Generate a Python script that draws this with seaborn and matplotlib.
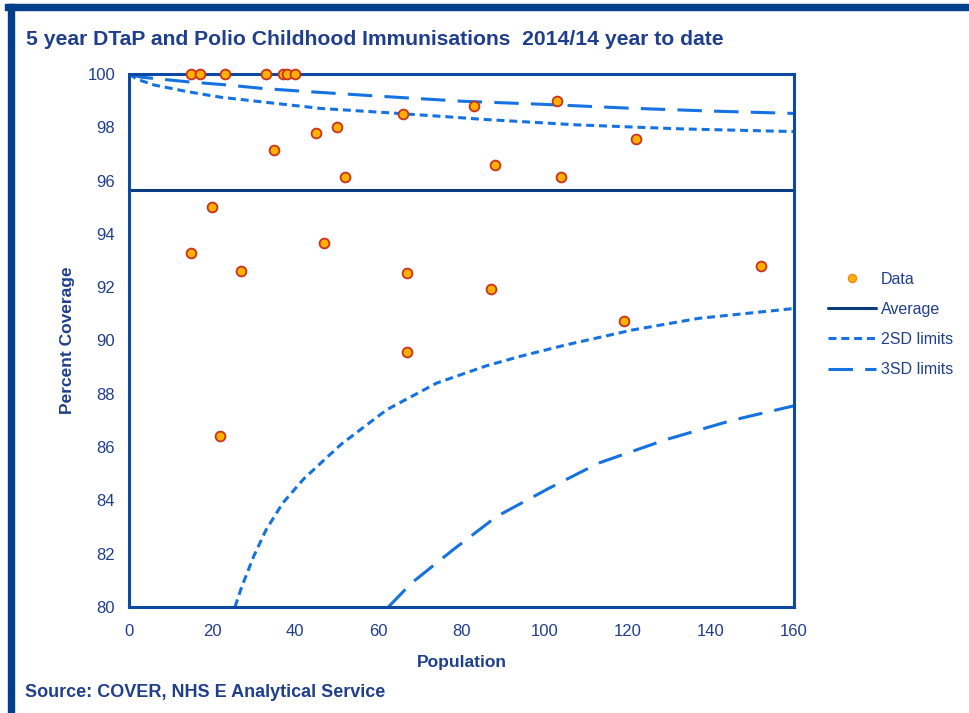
import matplotlib
matplotlib.use("Agg")
import matplotlib.pyplot as plt
from matplotlib.lines import Line2D
from matplotlib.patches import Rectangle
import seaborn as sns
import pandas as pd

# data
pop = [15, 17, 23, 33, 37, 38, 40, 35, 45, 50, 52, 66, 83, 88, 103, 104, 122,
       15, 20, 27, 22, 47, 67, 67, 87, 119, 152]
coverage = [100, 100, 100, 100, 100, 100, 100, 97.15, 97.8, 98.0, 96.15, 98.5, 98.8, 96.6, 99.0, 96.15, 97.55,
            93.3, 95.0, 92.6, 86.4, 93.65, 92.55, 89.55, 91.95, 90.75, 92.8]
average = 95.65

upper2_x = [0, 2, 6, 14, 22, 34, 46, 62, 78, 85, 108, 133, 160]
upper2_y = [100, 99.8, 99.59, 99.34, 99.13, 98.92, 98.71, 98.55, 98.38, 98.3, 98.09, 97.94, 97.84]
upper3_x = [0, 3, 14, 23.5, 32, 43, 52, 62, 80, 100, 120, 140, 160]
upper3_y = [100, 99.88, 99.71, 99.59, 99.46, 99.34, 99.25, 99.15, 98.98, 98.86, 98.72, 98.61, 98.52]
lower2_x = [25.5, 27, 30, 33, 37, 42, 51, 62, 74, 86, 94, 105, 121, 137, 160]
lower2_y = [80.0, 80.7, 81.9, 82.9, 83.9, 84.8, 86.1, 87.4, 88.4, 89.05, 89.4, 89.83, 90.39, 90.83, 91.2]
lower3_x = [62.4, 68, 78, 88.5, 101, 113, 129, 145, 160]
lower3_y = [80.0, 80.9, 82.15, 83.4, 84.45, 85.4, 86.27, 87.0, 87.55]

df = pd.DataFrame({"Population": pop, "Coverage": coverage})

sns.set_style("white")
plt.rcParams["font.family"] = ["Liberation Sans", "DejaVu Sans"]

text_col = "#1f3f8c"
spine_col = "#0b4aa0"
line_col = "#1572e0"
avg_col = "#0a3a80"

fig = plt.figure(figsize=(9.69, 7.13), dpi=100)
ax = fig.add_axes([0.1331, 0.1487, 0.6863, 0.7475])

dash2 = (0, (2.6, 1.6))
dash3 = (0, (8, 4))
lw = 2.2

sns.lineplot(x=upper2_x, y=upper2_y, ax=ax, color=line_col, lw=lw, linestyle=dash2)
sns.lineplot(x=lower2_x, y=lower2_y, ax=ax, color=line_col, lw=lw, linestyle=dash2)
sns.lineplot(x=upper3_x, y=upper3_y, ax=ax, color=line_col, lw=lw, linestyle=dash3)
sns.lineplot(x=lower3_x, y=lower3_y, ax=ax, color=line_col, lw=lw, linestyle=dash3)
ax.axhline(average, color=avg_col, lw=2.2)

sns.scatterplot(data=df, x="Population", y="Coverage", ax=ax, s=50,
                color="#ffb000", edgecolor="#c8321e", linewidth=1.3, zorder=5, clip_on=False)

ax.set_xlim(0, 160)
ax.set_ylim(80, 100)
ax.set_xticks(range(0, 161, 20))
ax.set_yticks(range(80, 101, 2))
for s in ax.spines.values():
    s.set_color(spine_col)
    s.set_linewidth(2.2)
ax.tick_params(axis="both", direction="out", length=4, width=1.5, color=spine_col,
               labelcolor=text_col, labelsize=12, pad=6)
ax.tick_params(axis="x", pad=8)
ax.set_xlabel("Population", color=text_col, fontsize=12.5, fontweight="bold", labelpad=12)
ax.set_ylabel("Percent Coverage", color=text_col, fontsize=12.5, fontweight="bold", labelpad=9)

fig.text(0.027, 0.944, "5 year DTaP and Polio Childhood Immunisations  2014/14 year to date",
         color=text_col, fontsize=15.2, fontweight="bold", va="center")
fig.text(0.026, 0.029, "Source: COVER, NHS E Analytical Service",
         color=text_col, fontsize=13, fontweight="bold", va="center")

# outer frame
fig.patches.append(Rectangle((0.005, 0.986), 0.995, 0.008, transform=fig.transFigure,
                             color="#003f8a", zorder=0))
fig.patches.append(Rectangle((0.008, 0.0), 0.006, 0.994, transform=fig.transFigure,
                             color="#003f8a", zorder=0))

handles = [
    Line2D([], [], marker="o", ls="none", markersize=6, markerfacecolor="#ffb000",
           markeredgecolor="#f08020", markeredgewidth=0.8),
    Line2D([], [], color=avg_col, lw=2.2),
    Line2D([], [], color=line_col, lw=lw, linestyle=dash2),
    Line2D([], [], color=line_col, lw=lw, linestyle=dash3),
]
labels = ["Data", "Average", "2SD limits", "3SD limits"]
leg = fig.legend(handles, labels, loc="center left", bbox_to_anchor=(0.8545, 0.545),
                 frameon=False, fontsize=11.5, handlelength=3.0, labelspacing=0.95,
                 handletextpad=0.3, borderpad=0, borderaxespad=0)
for t in leg.get_texts():
    t.set_color(text_col)

fig.savefig("out.png", dpi=100)
